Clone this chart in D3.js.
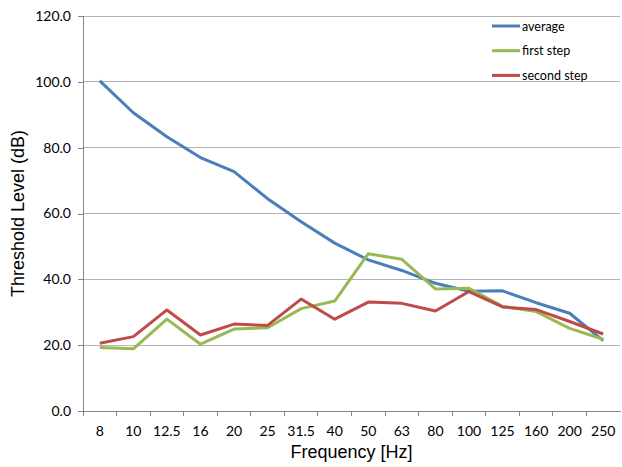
<!DOCTYPE html>
<html><head><meta charset="UTF-8">
<script src="https://d3js.org/d3.v7.min.js"></script>
<style>
body{margin:0;background:#fff;overflow:hidden}
.tick text{font-family:Lato,"Open Sans",sans-serif;font-size:14px;fill:#000}
.title{font-family:"Liberation Sans",Arial,sans-serif;font-size:18px;fill:#000}
.legend text{font-family:Lato,"Open Sans",sans-serif;font-size:12.5px;fill:#000}
</style></head><body><div id="chart"></div><script>
const frequencies = ['8','10','12.5','16','20','25','31.5','40','50','63','80','100','125','160','200','250'];
const average    = [100.3,90.6,83.3,77.0,72.7,64.5,57.5,51.0,45.9,42.7,38.8,36.4,36.5,32.9,29.7,21.4];
const firstStep  = [19.3,18.9,27.9,20.3,24.9,25.3,31.1,33.4,47.8,46.1,37.1,37.3,31.8,30.2,25.1,21.8];
const secondStep = [20.6,22.6,30.7,23.1,26.4,26.0,34.0,27.9,33.1,32.7,30.4,36.3,31.6,30.8,27.2,23.4];
const yTicks = [0,20,40,60,80,100,120];

const series = [
  {name:'average', values:average, color:'#4a7ebb'},
  {name:'first step', values:firstStep, color:'#98b954'},
  {name:'second step', values:secondStep, color:'#be4b48'}
];

const W = 622, H = 467;
const plotL = 83, plotR = 620, plotT = 16, plotB = 411;

const svg = d3.select('#chart').append('svg').attr('width', W).attr('height', H);

const x = d3.scaleBand().domain(frequencies).range([plotL, plotR]);
const y = d3.scaleLinear().domain([0, 120]).range([plotB, plotT]);

// gridlines
svg.append('g').selectAll('line').data(yTicks.slice(1)).join('line')
  .attr('x1', plotL).attr('x2', plotR)
  .attr('y1', d => y(d)).attr('y2', d => y(d))
  .attr('stroke', '#b3b3b3').attr('stroke-width', 1).attr('shape-rendering', 'crispEdges');

// y axis
const yAxis = svg.append('g').attr('transform', `translate(${plotL},0)`)
  .call(d3.axisLeft(y).tickValues(yTicks).tickFormat(d3.format('.1f')).tickSize(5).tickPadding(7));
yAxis.selectAll('.domain, .tick line').attr('stroke', '#868686').attr('shape-rendering', 'crispEdges');

// x axis with ticks on category boundaries
const xAxis = svg.append('g').attr('transform', `translate(0,${plotB})`)
  .call(d3.axisBottom(x).tickSize(0).tickPadding(12));
xAxis.select('.domain').attr('stroke', '#868686').attr('shape-rendering', 'crispEdges');
xAxis.selectAll('.tick text').attr('dy', '0.95em');
xAxis.append('g').selectAll('line').data(frequencies).join('line')
  .attr('x1', d => x(d)).attr('x2', d => x(d))
  .attr('y1', 0).attr('y2', 5)
  .attr('stroke', '#868686').attr('shape-rendering', 'crispEdges');

// lines
const line = d3.line()
  .x((d, i) => x(frequencies[i]) + x.bandwidth() / 2)
  .y(d => y(d));

svg.append('g').selectAll('path').data(series).join('path')
  .attr('d', d => line(d.values))
  .attr('fill', 'none')
  .attr('stroke', d => d.color)
  .attr('stroke-width', 3)
  .attr('stroke-linejoin', 'round');

// axis titles
svg.append('text').attr('class', 'title')
  .attr('x', (plotL + plotR) / 2).attr('y', 458)
  .attr('text-anchor', 'middle').text('Frequency [Hz]');
svg.append('text').attr('class', 'title')
  .attr('transform', `translate(24,${(plotT + plotB) / 2}) rotate(-90)`)
  .attr('text-anchor', 'middle').text('Threshold Level (dB)');

// legend
const legend = svg.append('g').attr('class', 'legend');
const item = legend.selectAll('g').data(series).join('g')
  .attr('transform', (d, i) => `translate(492,${26 + i * 24.7})`);
item.append('line').attr('x1', 0).attr('x2', 28).attr('y1', 0).attr('y2', 0)
  .attr('stroke', d => d.color).attr('stroke-width', 3);
item.append('text').attr('x', 30).attr('y', 4.5).text(d => d.name);
</script></body></html>
